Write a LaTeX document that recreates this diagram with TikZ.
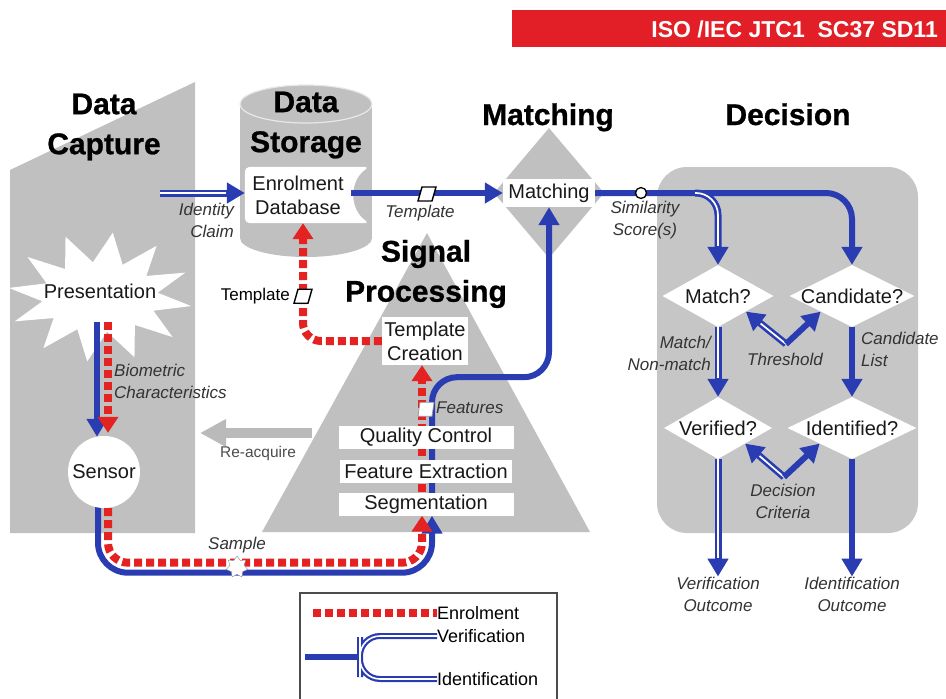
\documentclass[tikz,border=0pt]{standalone}
\usepackage{fontspec}
\setmainfont{Liberation Sans}
\newfontfamily\headfont[BoldFeatures={FakeBold=0.8}]{Liberation Sans}
\usetikzlibrary{arrows.meta,shapes.geometric,calc}
\definecolor{bblue}{RGB}{42,60,178}
\definecolor{rred}{RGB}{228,34,34}
\definecolor{sgray}{RGB}{192,192,192}
\definecolor{dgray}{RGB}{198,198,198}
\definecolor{bannerred}{RGB}{226,30,38}
\pgfdeclarelayer{back}
\pgfdeclarelayer{lines}
\pgfsetlayers{back,lines,main}
\begin{document}
\begin{tikzpicture}[x=1pt,y=-1pt,
  head/.style={font=\headfont\bfseries\fontsize{30}{40}\selectfont, align=center, inner sep=0},
  body/.style={font=\fontsize{20}{24}\selectfont, inner sep=1pt, text=black!90},
  lbl/.style={font=\itshape\fontsize{17}{22}\selectfont, text=black!80, inner sep=0, align=center},
  wbox/.style={body, fill=white, minimum height=23},
  dq/.style={diamond, fill=white, aspect=2, inner sep=-3pt, minimum height=62, font=\fontsize{20}{24}\selectfont, text=black!90},
  btip/.style={-{Triangle[length=18pt,width=20pt]}},
  rtip/.style={-{Triangle[length=16pt,width=20pt]}},
  blu/.style={draw=bblue, line width=6pt},
  ver/.style={draw=bblue, line width=7pt, postaction={draw=white, line width=1.7pt, arrows=-, shorten >=19pt}},
  verl/.style={draw=bblue, line width=6pt, postaction={draw=white, line width=1.6pt}},
  enr/.style={draw=rred, line width=8pt, dash pattern=on 8pt off 4pt},
  pmark/.pic={\draw[black, line width=1.4pt, fill=white] (-9,7) -- (5,7) -- (9,-7) -- (-5,-7) -- cycle;},
  fmark/.pic={\draw[black!40, line width=0.8pt, fill=white] (-8,7) -- (6,7) -- (8,-7) -- (-6,-7) -- cycle;},
]
\useasboundingbox (0,0) rectangle (946,699);

% banner
\node[fill=bannerred, minimum width=434, minimum height=37, anchor=north west, inner sep=0] (banner) at (512,10) {};
\node[font=\bfseries\fontsize{23}{26}\selectfont, text=white, anchor=east, inner sep=0] (bannertxt) at (938,29) {ISO /IEC JTC1\ \ SC37 SD11};

% headings
\node[head] (hcap) at (104,127) {Data\\Capture};
\node[head] (hsto) at (306,125) {Data\\Storage};
\node[head, anchor=base] (hmat) at (548,125) {Matching};
\node[head] (hsig) at (426,274) {Signal\\Processing};
\node[head, anchor=base] (hdec) at (788,125) {Decision};

% main nodes
\node[body] (pres) at (100,291) {Presentation};
\node[body, circle, fill=white, minimum size=72, inner sep=0] (sensor) at (104,472) {Sensor};
\node[body, align=center, minimum width=106, minimum height=56] (db) at (298,195) {Enrolment\\Database};
\node[body, fill=white, minimum width=92, minimum height=28] (match) at (549,193) {Matching};
\node[body, fill=white, align=center, minimum width=86, minimum height=48] (tc) at (425,341) {Template\\Creation};
\node[wbox, minimum width=175] (qc) at (426,437) {Quality Control};
\node[wbox, minimum width=172] (fe) at (426,471) {Feature Extraction};
\node[wbox, minimum width=175] (seg) at (426,504) {Segmentation};

\node[dq, minimum width=111] (mq) at (718,296) {Match?};
\node[dq, minimum width=125] (cq) at (852,296) {Candidate?};
\node[dq, minimum width=108] (vq) at (718,428) {Verified?};
\node[dq, minimum width=129] (iq) at (852,428) {Identified?};

% labels
\node[lbl, anchor=east, align=right] (idcl) at (234,220) {Identity\\Claim};
\node[lbl] (ltpl) at (420,213) {Template};
\node[lbl, anchor=west, align=left] (lbio) at (114,381) {Biometric\\Characteristics};
\node[lbl] (lsmp) at (237,545) {Sample};
\node[lbl, anchor=west] (lfeat) at (436,408) {Features};
\node[font=\fontsize{17}{20}\selectfont, anchor=east, inner sep=0] (ltpl2) at (290,296) {Template};
\node[font=\fontsize{15.5}{18}\selectfont, text=black!70, inner sep=0] (lreac) at (258,453) {Re-acquire};
\node[lbl] (lsim) at (645,220) {Similarity\\Score(s)};
\node[lbl, anchor=east, align=right] (lmnm) at (711,353) {Match/\\Non-match};
\node[lbl, anchor=west, align=left] (lcl) at (861,349) {Candidate\\List};
\node[lbl] (lthr) at (785,359) {Threshold};
\node[lbl] (ldc) at (783,501) {Decision\\Criteria};
\node[lbl] (lvo) at (718,594) {Verification\\Outcome};
\node[lbl] (lio) at (852,594) {Identification\\Outcome};

% legend texts
\node[font=\fontsize{18}{20}\selectfont, anchor=west, inner sep=0] (lenr) at (437,613) {Enrolment};
\node[font=\fontsize{18}{20}\selectfont, anchor=west, inner sep=0] (lver) at (437,636) {Verification};
\node[font=\fontsize{18}{20}\selectfont, anchor=west, inner sep=0] (lide) at (437,679) {Identification};

% markers
\node[circle, draw=black, fill=white, line width=1.3pt, minimum size=11, inner sep=0] (sim) at (641,193) {};
\node[star, star points=7, star point ratio=1.5, draw=black!45, fill=white, minimum size=22, inner sep=0] (smp) at (237,567) {};
\pic at ($(db.east)!0.5!(match.west)$) {pmark};
\pic at ($(db.south)+(5,73)$) {pmark};
\pic at ($(qc.north)+(0,-16)$) {fmark};

% background shapes
\begin{pgfonlayer}{back}
  \fill[sgray] (10,170) -- (195,82) -- (195,533) -- (10,533) -- cycle;
  \fill[sgray] (240,104) rectangle (372,238);
  \fill[sgray] (306,238) ellipse [x radius=66, y radius=19];
  \fill[sgray] (306,104) ellipse [x radius=66, y radius=19];
  \draw[white!82!gray, line width=1.2pt] (306,104) ellipse [x radius=66, y radius=19];
  \fill[white] plot[samples=25, domain=8:368, variable=\t]
     ({100+(75+17*cos(12*(\t-8)))*cos(\t)}, {297+(50+15*cos(12*(\t-8)))*sin(\t)}) -- cycle;
  \fill[white, rounded corners=5] (db.north west) -- ($(db.north east)+(18,0)$)
     .. controls ($(db.east)+(-2,-14)$) and ($(db.east)+(-2,14)$) .. ($(db.south east)+(18,0)$)
     -- (db.south west) -- cycle;
  \fill[sgray] (427,233) -- (590,532) -- (262,532) -- cycle;
  \fill[sgray] ($(match)+(0,-65)$) -- ($(match)+(55,0)$) -- ($(match)+(0,65)$) -- ($(match)+(-55,0)$) -- cycle;
  \fill[dgray, rounded corners=30] (657,167) rectangle (918,533);
\end{pgfonlayer}

% connectors
\begin{pgfonlayer}{lines}
  \coordinate (idc) at (160,193);
  \draw[ver, btip] (idc) -- (db.west |- idc);
  \draw[blu, btip] (db.east |- match.west) -- (match.west);
  % presentation -> sensor
  \draw[blu, btip] ($(pres.south)+(-3,22)$) -- ($(sensor.north)+(-7,1)$);
  \draw[enr, rtip] ($(pres.south)+(8,22)$) -- ($(sensor.north)+(4,-3)$);
  % sensor -> segmentation
  \draw[blu, btip, rounded corners=30] ($(sensor.south)+(-6,-1)$) |- ($(seg.south)+(6,57)$) -- ($(seg.south)+(6,0)$);
  \draw[enr, rtip, rounded corners=20] ($(sensor.south)+(4,0)$) |- ($(seg.south)+(-4,47)$) -- ($(seg.south)+(-4,0)$);
  % segmentation -> template creation / matching
  \draw[enr, rtip] ($(seg.south)+(-4,0)$) -- ($(tc.south)+(-3,0)$);
  \draw[blu, btip, rounded corners=25] ($(seg.south)+(6,0)$) |- ($(match.south)+(0,170)$) -- (match.south);
  % template creation -> database
  \draw[enr, rtip, rounded corners=18] (tc.west) -| ($(db.south)+(5,0)$);
  % re-acquire
  \coordinate (reac1) at (312,433);
  \coordinate (reac2) at (200,433);
  \draw[draw=black!27, line width=10pt, -{Triangle[length=26pt,width=26pt]}] (reac1) -- (reac2);
  % matching -> decision
  \draw[blu, btip, rounded corners=26] (match.east) -| (cq.north);
  \draw[ver, btip, rounded corners=22] ($(match.east)+(100,0)$) -| (mq.north);
  \draw[ver, btip] (mq.south) -- (vq.north);
  \draw[blu, btip] (cq.south) -- (iq.north);
  \coordinate (thr) at (786,344);
  \draw[ver, btip] (thr) -- (mq.south east);
  \draw[blu, btip] (thr) -- (cq.south west);
  \coordinate (dcr) at (784,477);
  \draw[ver, btip] (dcr) -- (vq.south east);
  \draw[blu, btip] (dcr) -- (iq.south west);
  \draw[ver, btip] (vq.south) -- (lvo.north);
  \draw[blu, btip] (iq.south) -- (lio.north);
  % legend
  \draw[black!70, line width=1.3pt] (300,702) |- (557,593) -- (557,702);
  \coordinate (le1) at (313,613);
  \coordinate (le2) at (305,657);
  \coordinate (le3) at (360,657);
  \draw[enr] (le1) -- (lenr.west);
  \draw[blu] (le2) -- (le3);
  \draw[verl, rounded corners=20] (lver.west) -| (le3) |- (lide.west);
\end{pgfonlayer}
\end{tikzpicture}
\end{document}
